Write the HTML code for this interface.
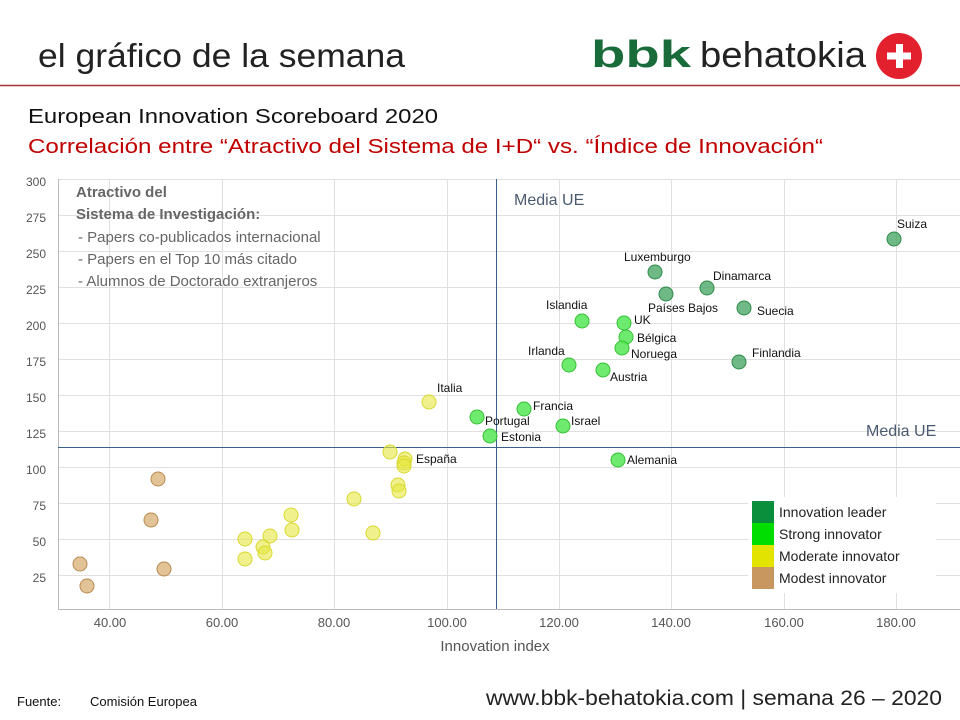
<!DOCTYPE html>
<html><head><meta charset="utf-8"><style>
body{margin:0;background:#fff;width:960px;height:720px;overflow:hidden}
svg{display:block}
text{font-family:"Liberation Sans",sans-serif}
</style></head><body>
<svg width="960" height="720" viewBox="0 0 960 720">
<!-- header -->
<text x="38" y="67" font-size="33" fill="#222" textLength="367" lengthAdjust="spacingAndGlyphs">el gráfico de la semana</text>
<text x="591" y="67" font-size="38" font-weight="bold" fill="#1a6b3a" textLength="100" lengthAdjust="spacingAndGlyphs">bbk</text>
<text x="700" y="67" font-size="36" fill="#222" textLength="166" lengthAdjust="spacingAndGlyphs">behatokia</text>
<circle cx="899" cy="56" r="23" fill="#e3202e"/>
<rect x="896" y="44" width="7" height="24" fill="#fff"/><rect x="887" y="52.5" width="24" height="7" fill="#fff"/>
<line x1="0" y1="85.5" x2="960" y2="85.5" stroke="#a83232" stroke-width="1.5"/>
<text x="28" y="123" font-size="20" fill="#111" textLength="410" lengthAdjust="spacingAndGlyphs">European Innovation Scoreboard 2020</text>
<text x="28" y="153" font-size="20" fill="#c00000" textLength="795" lengthAdjust="spacingAndGlyphs">Correlación entre “Atractivo del Sistema de I+D“ vs. “Índice de Innovación“</text>
<!-- grid -->
<g stroke="#e0e0e0" stroke-width="1">
<line x1="58" y1="179.5" x2="960" y2="179.5"/><line x1="58" y1="215.5" x2="960" y2="215.5"/>
<line x1="58" y1="251.5" x2="960" y2="251.5"/><line x1="58" y1="287.5" x2="960" y2="287.5"/>
<line x1="58" y1="323.5" x2="960" y2="323.5"/><line x1="58" y1="359.5" x2="960" y2="359.5"/>
<line x1="58" y1="395.5" x2="960" y2="395.5"/><line x1="58" y1="431.5" x2="960" y2="431.5"/>
<line x1="58" y1="467.5" x2="960" y2="467.5"/><line x1="58" y1="503.5" x2="960" y2="503.5"/>
<line x1="58" y1="539.5" x2="960" y2="539.5"/><line x1="58" y1="575.5" x2="960" y2="575.5"/>
<line x1="109.5" y1="179" x2="109.5" y2="609"/><line x1="222.5" y1="179" x2="222.5" y2="609"/>
<line x1="334.5" y1="179" x2="334.5" y2="609"/><line x1="447.5" y1="179" x2="447.5" y2="609"/>
<line x1="559.5" y1="179" x2="559.5" y2="609"/><line x1="671.5" y1="179" x2="671.5" y2="609"/>
<line x1="784.5" y1="179" x2="784.5" y2="609"/><line x1="896.5" y1="179" x2="896.5" y2="609"/>
</g>
<line x1="58.5" y1="179" x2="58.5" y2="609" stroke="#bbb"/>
<line x1="58" y1="609.5" x2="960" y2="609.5" stroke="#bbb"/>
<g font-size="12" fill="#555" text-anchor="end">
<text x="46" y="186">300</text><text x="46" y="222">275</text><text x="46" y="258">250</text><text x="46" y="294">225</text>
<text x="46" y="330">200</text><text x="46" y="366">175</text><text x="46" y="402">150</text><text x="46" y="438">125</text>
<text x="46" y="474">100</text><text x="46" y="510">75</text><text x="46" y="546">50</text><text x="46" y="582">25</text>
</g>
<g font-size="13" fill="#555" text-anchor="middle">
<text x="110" y="627">40.00</text><text x="222" y="627">60.00</text><text x="334" y="627">80.00</text><text x="447" y="627">100.00</text>
<text x="559" y="627">120.00</text><text x="671" y="627">140.00</text><text x="784" y="627">160.00</text><text x="896" y="627">180.00</text>
<text x="495" y="651" font-size="15">Innovation index</text>
</g>
<!-- media lines -->
<line x1="496.5" y1="179" x2="496.5" y2="609" stroke="#3a5f8f" stroke-width="1"/>
<line x1="58" y1="447.5" x2="960" y2="447.5" stroke="#3a5f8f" stroke-width="1"/>
<text x="514" y="205" font-size="16" fill="#4a5a70">Media UE</text>
<text x="866" y="436" font-size="16" fill="#4a5a70">Media UE</text>
<!-- annotation -->
<g fill="#666" font-size="15">
<text x="76" y="197" font-weight="bold">Atractivo del</text>
<text x="76" y="219" font-weight="bold">Sistema de Investigación:</text>
<text x="78" y="242">- Papers co-publicados internacional</text>
<text x="78" y="264">- Papers en el Top 10 más citado</text>
<text x="78" y="286">- Alumnos de Doctorado extranjeros</text>
</g>
<!-- points -->
<g fill="#d4a96a" fill-opacity="0.7" stroke="#b88a50">
<circle cx="158" cy="479" r="7"/><circle cx="151" cy="520" r="7"/><circle cx="80" cy="564" r="7"/><circle cx="164" cy="569" r="7"/><circle cx="87" cy="586" r="7"/>
</g>
<g fill="#e6e640" fill-opacity="0.6" stroke="#d8d830">
<circle cx="429" cy="402" r="7"/><circle cx="390" cy="452" r="7"/><circle cx="405" cy="459" r="7"/><circle cx="404" cy="463" r="7"/><circle cx="404" cy="466" r="7"/>
<circle cx="398" cy="485" r="7"/><circle cx="399" cy="491" r="7"/><circle cx="354" cy="499" r="7"/><circle cx="373" cy="533" r="7"/>
<circle cx="291" cy="515" r="7"/><circle cx="292" cy="530" r="7"/><circle cx="270" cy="536" r="7"/><circle cx="245" cy="539" r="7"/>
<circle cx="263" cy="547" r="7"/><circle cx="265" cy="553" r="7"/><circle cx="245" cy="559" r="7"/>
</g>
<g fill="#55e855" fill-opacity="0.85" stroke="#35c035">
<circle cx="582" cy="321" r="7"/><circle cx="624" cy="323" r="7"/><circle cx="626" cy="337" r="7"/><circle cx="622" cy="348" r="7"/>
<circle cx="569" cy="365" r="7"/><circle cx="603" cy="370" r="7"/><circle cx="524" cy="409" r="7"/><circle cx="477" cy="417" r="7"/>
<circle cx="563" cy="426" r="7"/><circle cx="490" cy="436" r="7"/><circle cx="618" cy="460" r="7"/>
</g>
<g fill="#4aa866" fill-opacity="0.8" stroke="#2f8a4a">
<circle cx="894" cy="239" r="7"/><circle cx="655" cy="272" r="7"/><circle cx="666" cy="294" r="7"/><circle cx="707" cy="288" r="7"/>
<circle cx="744" cy="308" r="7"/><circle cx="739" cy="362" r="7"/>
</g>
<!-- labels -->
<g font-size="12" fill="#111">
<text x="897" y="228">Suiza</text><text x="624" y="261">Luxemburgo</text><text x="713" y="280">Dinamarca</text>
<text x="648" y="312">Países Bajos</text><text x="757" y="315">Suecia</text><text x="752" y="357">Finlandia</text>
<text x="546" y="309">Islandia</text><text x="634" y="324">UK</text><text x="637" y="342">Bélgica</text><text x="631" y="358">Noruega</text>
<text x="528" y="355">Irlanda</text><text x="610" y="381">Austria</text><text x="533" y="410">Francia</text><text x="485" y="425">Portugal</text>
<text x="571" y="425">Israel</text><text x="501" y="441">Estonia</text><text x="627" y="464">Alemania</text>
<text x="437" y="392">Italia</text><text x="416" y="463">España</text>
</g>
<!-- legend -->
<rect x="748" y="497" width="188" height="96" fill="#fff"/>
<rect x="752" y="501" width="22" height="22" fill="#0a8f3c"/>
<rect x="752" y="523" width="22" height="22" fill="#00dd00"/>
<rect x="752" y="545" width="22" height="22" fill="#e3e300"/>
<rect x="752" y="567" width="22" height="22" fill="#c8965f"/>
<g font-size="14" fill="#222">
<text x="779" y="517">Innovation leader</text><text x="779" y="539">Strong innovator</text>
<text x="779" y="561">Moderate innovator</text><text x="779" y="583">Modest innovator</text>
</g>
<!-- footer -->
<text x="17" y="706" font-size="13" fill="#111">Fuente:</text>
<text x="90" y="706" font-size="13" fill="#111">Comisión Europea</text>
<text x="486" y="705" font-size="21" fill="#222" textLength="456" lengthAdjust="spacingAndGlyphs">www.bbk-behatokia.com | semana 26 – 2020</text>
</svg>
</body></html>
